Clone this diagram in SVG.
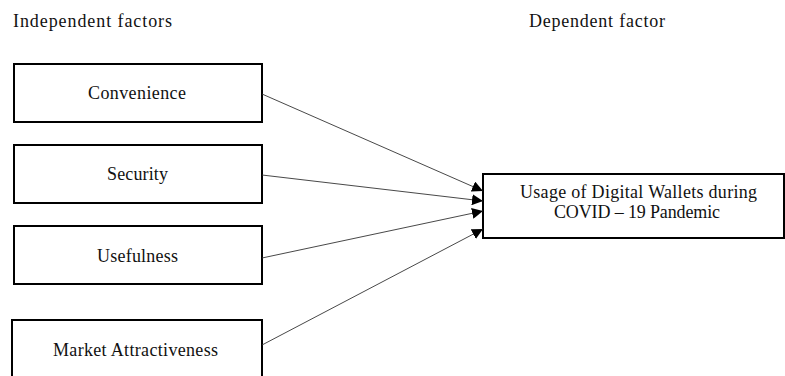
<svg xmlns="http://www.w3.org/2000/svg" width="785" height="376" viewBox="0 0 785 376">
<defs>
<style>
text{font-family:"Liberation Serif","DejaVu Serif",serif;font-size:18px;fill:#111}
.box{fill:#fff;stroke:#000;stroke-width:2}
.c{text-anchor:middle}
.edge{stroke:#333;stroke-width:0.9;fill:none;marker-end:url(#ah)}
</style>
<marker id="ah" viewBox="0 0 10 10" refX="10" refY="5" markerWidth="11" markerHeight="11" markerUnits="userSpaceOnUse" orient="auto">
<path d="M0,0 L10,5 L0,10 z" fill="#000"/>
</marker>
</defs>
<rect width="785" height="376" fill="#fff"/>
<text x="13" y="27" textLength="159">Independent factors</text>
<text x="529" y="27" textLength="136">Dependent factor</text>
<g id="convenience"><rect class="box" x="14" y="64" width="248" height="58"/><text class="c" x="137" y="99" textLength="98">Convenience</text></g>
<g id="security"><rect class="box" x="14" y="145" width="248" height="58"/><text class="c" x="137.5" y="180" textLength="61">Security</text></g>
<g id="usefulness"><rect class="box" x="14" y="226" width="248" height="58"/><text class="c" x="137.5" y="262" textLength="81">Usefulness</text></g>
<g id="market"><rect class="box" x="12" y="320" width="250" height="60"/><text class="c" x="135.5" y="356" textLength="165">Market Attractiveness</text></g>
<g id="usage"><rect class="box" x="483" y="174" width="301" height="64"/><text class="c" x="638.5" y="198" textLength="237">Usage of Digital Wallets during</text><text class="c" x="637" y="218" textLength="166">COVID – 19 Pandemic</text></g>
<g id="connectors">
<line class="edge" x1="262" y1="94" x2="483" y2="191"/>
<line class="edge" x1="262" y1="175" x2="483" y2="201"/>
<line class="edge" x1="262" y1="258" x2="483" y2="211"/>
<line class="edge" x1="262" y1="345" x2="483" y2="229"/>
</g>
</svg>
